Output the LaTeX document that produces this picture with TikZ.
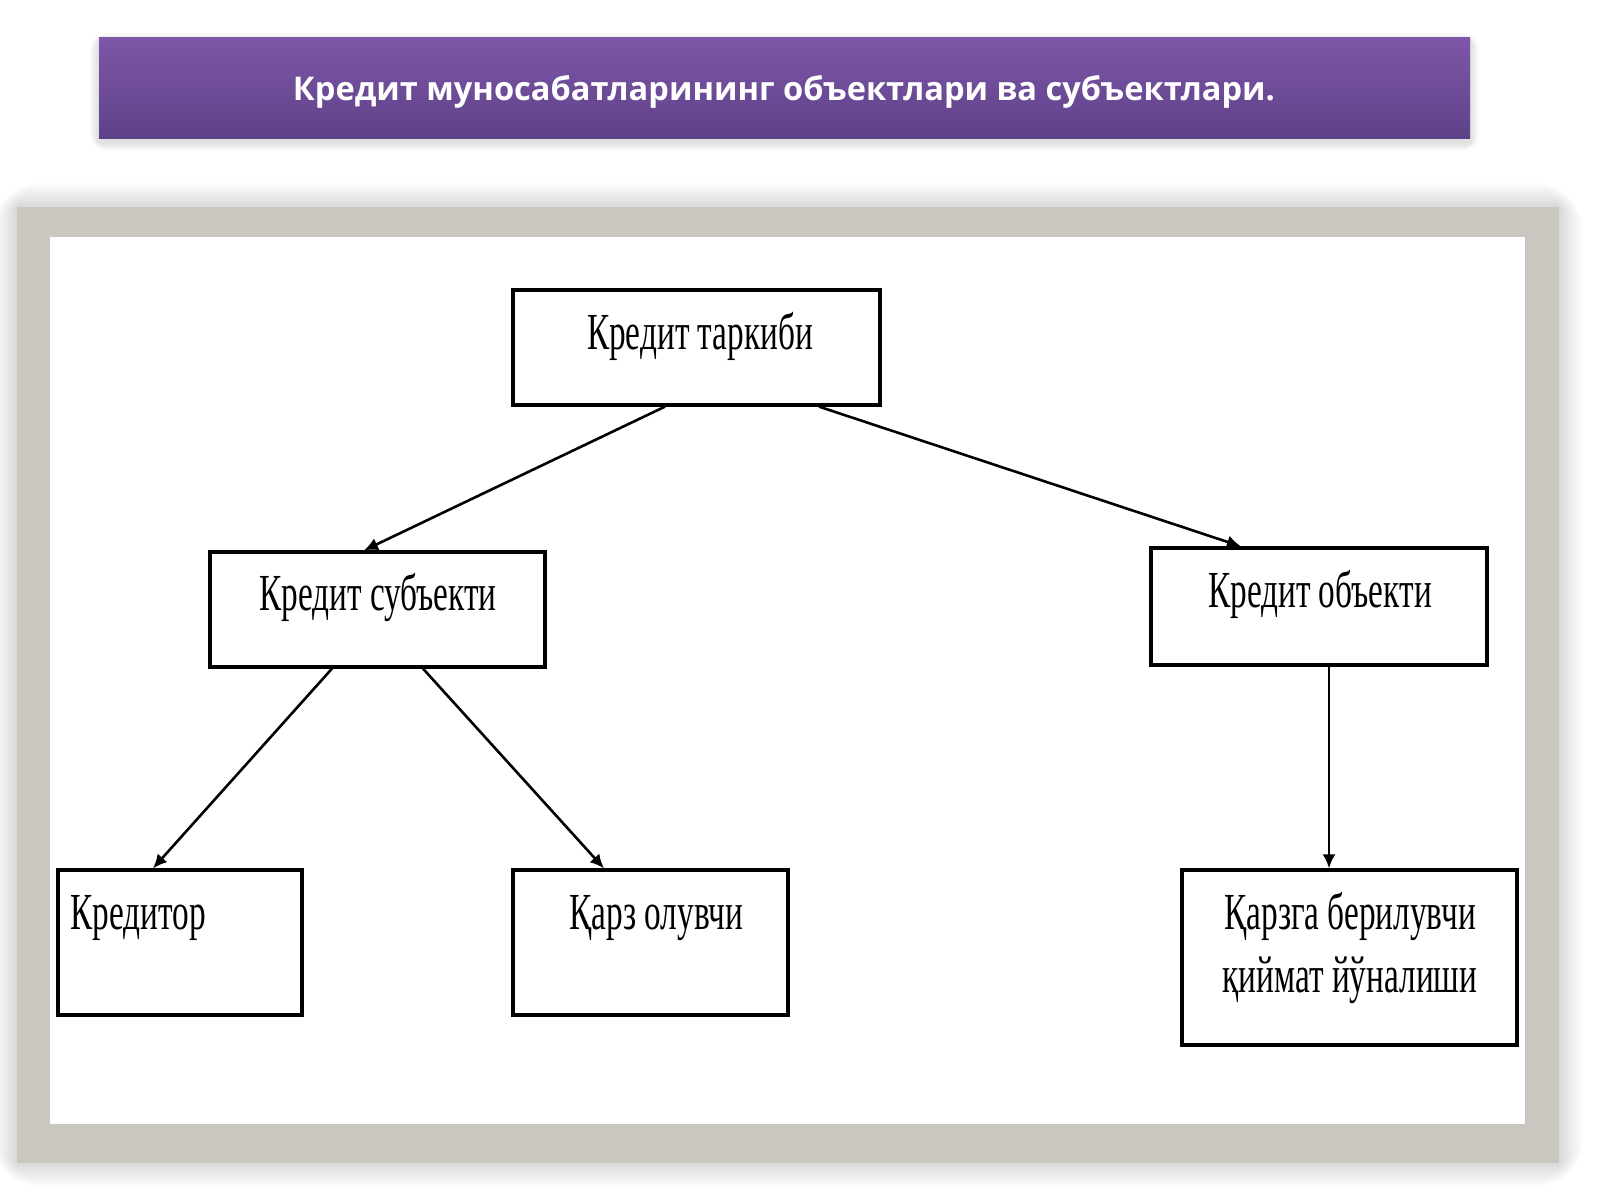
\documentclass[tikz,border=0pt]{standalone}
\usepackage{fontspec}
\usetikzlibrary{arrows.meta}
\newfontfamily\boxfont{Liberation Serif}[FakeStretch=0.64]
\newfontfamily\titlefont{Open Sans}
\definecolor{purpletop}{RGB}{126,86,168}
\definecolor{purplebot}{RGB}{94,66,136}
\definecolor{framegray}{RGB}{201,199,191}
\tikzset{
  stepbox/.style={draw=black, line width=1.6pt, fill=white, inner sep=0pt},
  lbl/.style={font=\boxfont\fontsize{26}{31}\selectfont, anchor=base, inner sep=0pt, text=black},
  conn/.style={line width=1.3pt, -{Latex[length=7pt,width=6.5pt]}},
}
\begin{document}
\begin{tikzpicture}[x=0.5pt,y=-0.5pt]
\useasboundingbox (0,0) rectangle (1600,1200);
\fill[white] (0,0) rectangle (1600,1200);
% title bar shadow
\foreach \i in {1,...,6} {
  \fill[black, opacity=0.02, rounded corners=1.5*\i] (99-1.5*\i,42-1.5*\i) rectangle (1470+1.5*\i,142+1.5*\i);
}
% title bar
\node[draw=none, top color=purpletop, bottom color=purplebot, minimum width=685.5pt, minimum height=50.5pt, inner sep=0pt]
  (title) at (784.5,87.5) {};
\node[font=\titlefont\bfseries\fontsize{16.3}{19}\selectfont, text=white, anchor=base] (titletext) at (784,100) {Кредит муносабатларининг объектлари ва субъектлари.};
% frame shadow
\foreach \i in {1,...,12} {
  \fill[black, opacity=0.012, rounded corners=2*\i] (17-2*\i,207-2*\i) rectangle (1559+2*\i,1163+2*\i);
}
% frame
\node[fill=framegray, minimum width=771pt, minimum height=478pt, inner sep=0pt] (frame) at (788,685) {};
\node[fill=white, minimum width=737.5pt, minimum height=443.5pt, inner sep=0pt] (inner) at (787.5,680.5) {};
% boxes
\node[stepbox, minimum width=183.5pt, minimum height=57.5pt] (top) at (696.5,347.5) {};
\node[stepbox, minimum width=167.5pt, minimum height=57.5pt] (subj) at (377.5,609.5) {};
\node[stepbox, minimum width=168pt, minimum height=58.5pt] (obj) at (1319,606.5) {};
\node[stepbox, minimum width=122pt, minimum height=72.5pt] (kred) at (180,942.5) {};
\node[stepbox, minimum width=137.5pt, minimum height=72.5pt] (qarz) at (650.5,942.5) {};
\node[stepbox, minimum width=167.5pt, minimum height=87.5pt] (qarzga) at (1349.5,957.5) {};
% labels
\node[lbl] (topl) at (700,349) {Кредит таркиби};
\node[lbl] (subjl) at (378,610) {Кредит субъекти};
\node[lbl] (objl) at (1320,607) {Кредит объекти};
\node[lbl, anchor=base west] (kredl) at (70,929) {Кредитор};
\node[lbl] (qarzl) at (656,929) {Қарз олувчи};
\node[lbl] (qarzgal1) at (1350,929) {Қарзга берилувчи};
\node[lbl] (qarzgal2) at (1350,992) {қиймат йўналиши};
% connectors
\draw[conn] ([xshift=-15.75pt]top.south) -- ([xshift=-6.75pt]subj.north);
\draw[conn] ([xshift=61.25pt]top.south) -- ([xshift=-39pt]obj.north);
\draw[conn] ([xshift=-22.75pt]subj.south) -- ([xshift=-13.5pt]kred.north);
\draw[conn] ([xshift=22.75pt]subj.south) -- ([xshift=-23.25pt]qarz.north);
\draw[conn] ([xshift=5pt]obj.south) -- ([xshift=-10.25pt]qarzga.north);
\end{tikzpicture}
\end{document}
